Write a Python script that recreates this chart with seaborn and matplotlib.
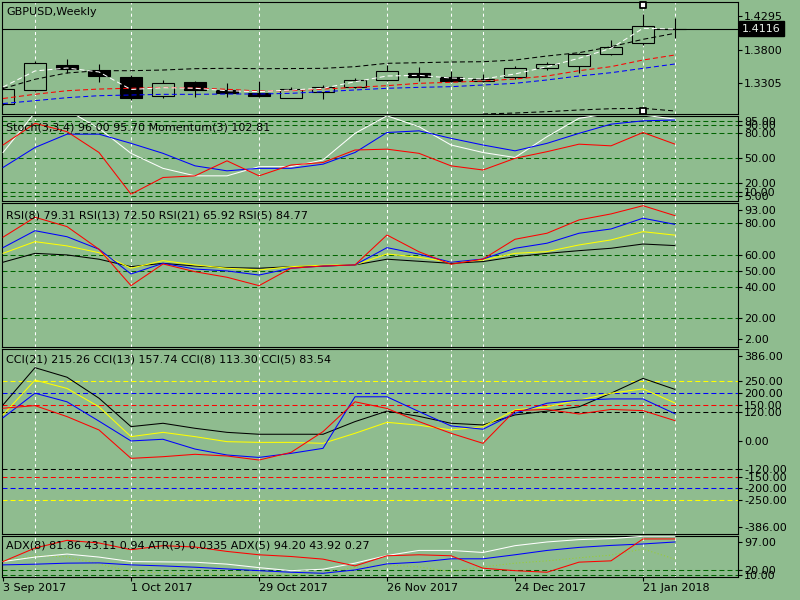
import matplotlib
matplotlib.use("Agg")
import matplotlib.pyplot as plt
import matplotlib.transforms as mtransforms
import seaborn as sns

# ---------------- data (weekly bars, 3 Sep 2017 .. 28 Jan 2018) ----------------
weeks = list(range(22))
date_labels = ["3 Sep 2017", "1 Oct 2017", "29 Oct 2017", "26 Nov 2017",
               "24 Dec 2017", "21 Jan 2018"]
date_label_weeks = [0, 4, 8, 12, 16, 20]
grid_weeks = [1, 4, 8, 12, 14, 15, 20, 21]

opens = [1.2992, 1.3201, 1.3573, 1.3498, 1.3394, 1.3111, 1.3320, 1.3201, 1.3156, 1.3084, 1.3176,
         1.3240, 1.3350, 1.3449, 1.3389, 1.3330, 1.3390, 1.3524, 1.3563, 1.3732, 1.3896, 1.4116]
highs = [1.3260, 1.3625, 1.3662, 1.3588, 1.3424, 1.3350, 1.3335, 1.3300, 1.3335, 1.3240, 1.3275,
         1.3384, 1.3568, 1.3539, 1.3484, 1.3439, 1.3558, 1.3618, 1.3756, 1.3945, 1.4328, 1.4268]
lows = [1.2970, 1.3190, 1.3454, 1.3320, 1.3052, 1.3081, 1.3096, 1.3100, 1.3092, 1.3075, 1.3067,
        1.3230, 1.3340, 1.3330, 1.3320, 1.3325, 1.3360, 1.3503, 1.3454, 1.3725, 1.3871, 1.3970]
closes = [1.3215, 1.3603, 1.3513, 1.3409, 1.3081, 1.3305, 1.3201, 1.3156, 1.3116, 1.3210, 1.3240,
          1.3350, 1.3484, 1.3394, 1.3330, 1.3369, 1.3524, 1.3583, 1.3737, 1.3845, 1.4149, 1.4116]
last_price = 1.4116

ma_white = [1.3245, 1.3484, 1.3528, 1.3469, 1.3208, 1.3235, 1.3226, 1.3190, 1.3176, 1.3201, 1.3226,
            1.3324, 1.3409, 1.3419, 1.3379, 1.3364, 1.3439, 1.3548, 1.3673, 1.3822, 1.4119, 1.4109]
ma_black = [1.3223, 1.3360, 1.3454, 1.3488, 1.3488, 1.3498, 1.3518, 1.3523, 1.3518, 1.3520, 1.3523,
            1.3548, 1.3598, 1.3607, 1.3617, 1.3622, 1.3647, 1.3707, 1.3756, 1.3845, 1.3955, 1.4045]
ma_red = [1.3074, 1.3137, 1.3190, 1.3215, 1.3226, 1.3240, 1.3230, 1.3211, 1.3186, 1.3190, 1.3215,
          1.3240, 1.3265, 1.3300, 1.3315, 1.3335, 1.3364, 1.3409, 1.3488, 1.3548, 1.3647, 1.3722]
ma_blue = [1.2999, 1.3042, 1.3086, 1.3116, 1.3126, 1.3136, 1.3136, 1.3141, 1.3141, 1.3151, 1.3176,
           1.3201, 1.3226, 1.3240, 1.3250, 1.3275, 1.3300, 1.3350, 1.3409, 1.3458, 1.3523, 1.3588]
band_weeks = [15, 16, 17, 18, 19, 20, 21]
band_low = [1.2843, 1.2858, 1.2878, 1.2903, 1.2922, 1.2928, 1.2888]
fractal_week = [20, 20]
fractal_price = [1.4466, 1.2888]
price_ticks = [1.4295, 1.3800, 1.3305]

stoch_main = [39, 63, 79, 79, 68, 56, 41, 35, 38, 38, 43, 57, 81, 83, 74, 66, 59, 68, 80, 91, 95, 96]
stoch_red = [66, 92, 82, 57, 7, 27, 29, 47, 29, 42, 45, 60, 61, 56, 41, 36, 50, 58, 67, 65, 81, 67]
stoch_white = [57, 105, 108, 86, 56, 38, 29, 29, 40, 40, 48, 80, 101, 88, 66, 57, 51, 76, 98, 104, 102, 97]
stoch_levels = [95, 90, 80, 50, 20, 10, 5]

rsi5 = [71.2, 83.8, 77.9, 63.6, 40.6, 54.3, 49.4, 45.9, 40.6, 51.6, 53.0, 53.7, 72.6, 62.0, 54.1,
        57.4, 69.9, 73.7, 82.1, 85.9, 91.1, 84.8]
rsi8 = [64.6, 75.3, 71.5, 63.6, 48.0, 54.7, 51.1, 49.9, 47.3, 51.6, 53.0, 53.7, 64.6, 60.5, 55.4,
        57.4, 64.2, 67.4, 73.7, 76.4, 83.2, 79.3]
rsi13 = [61.0, 68.4, 65.7, 61.4, 51.6, 56.4, 53.7, 51.6, 50.5, 52.6, 53.5, 53.7, 60.6, 58.5, 55.4,
         56.8, 61.0, 62.1, 66.3, 69.5, 74.7, 72.5]
rsi21 = [55.4, 61.0, 60.0, 57.3, 52.6, 54.7, 53.0, 52.0, 51.6, 52.6, 53.0, 53.7, 57.3, 56.0, 54.7,
         55.8, 58.9, 61.0, 62.7, 64.2, 66.9, 65.9]
rsi_levels = [80, 60, 50, 40, 20]

cci21 = [150, 306, 266, 178, 59, 73, 52, 35, 27, 27, 27, 80, 124, 102, 73, 66, 108, 124, 142, 199, 261, 215]
cci13 = [108, 254, 219, 142, 17, 35, 17, -4, -7, -7, -11, 31, 77, 65, 45, 59, 129, 142, 170, 199, 217, 158]
cci8 = [96, 199, 163, 82, -1, 6, -35, -60, -70, -53, -32, 184, 184, 122, 62, 48, 115, 157, 170, 175, 175, 113]
cci5 = [136, 147, 101, 45, -74, -67, -57, -64, -81, -49, 38, 163, 135, 80, 31, -11, 126, 131, 112, 131, 126, 84]
cci_levels = [250, 200, 150, 120, -120, -150, -200, -250]
cci_level_colors = ["#FFFF00", "#0000FF", "#FF0000", "#000000",
                    "#000000", "#FF0000", "#0000FF", "#FFFF00"]

adx_red = [39.6, 69.5, 86.5, 80.7, 65.8, 74.7, 71.8, 62.0, 54.6, 50.8, 45.0, 30.0, 52.4, 54.6, 52.4,
           24.9, 19.5, 16.0, 38.3, 41.2, 89.6, 89.6]
adx_white = [39.6, 49.5, 56.2, 49.5, 39.6, 38.9, 38.1, 33.9, 26.2, 19.5, 22.7, 36.1, 53.0, 64.2, 64.2,
             59.7, 74.7, 82.9, 88.1, 90.3, 95.4, 95.4]
adx_blue = [32.3, 33.8, 36.1, 36.7, 32.3, 30.0, 27.1, 23.3, 19.5, 16.0, 13.7, 21.1, 34.5, 38.3, 45.7,
            45.7, 54.6, 64.2, 70.9, 75.3, 78.5, 82.9]
atr_line = [41.2, 52.4, 50.1, 34.5, 17.3, 14.4, 12.2, 11.1, 10.0, 10.0, 14.4, 26.7, 32.3, 27.8, 17.3,
            27.8, 36.1, 41.2, 47.9, 53.9, 67.3, 45.0]
adx_levels = [20, 10]

# ---------------- style ----------------
BG = "#8FBC8F"
LEVEL_GREEN = "#006400"
sns.set_theme(style="white")
plt.rcParams["font.family"] = ["DejaVu Sans"]
plt.rcParams["lines.scale_dashes"] = False
plt.rcParams["axes.linewidth"] = 0.8
FS = 8
LW = 0.75

fig = plt.figure(figsize=(8, 6), dpi=100, facecolor=BG)

X0, X1 = 2, 738
XMIN = (X0 - 3) / 32.0
XMAX = (X1 - 3) / 32.0


def make_panel(yt, yb, ylim):
    ax = fig.add_axes([X0 / 800, 1 - yb / 600, (X1 - X0) / 800, (yb - yt) / 600])
    ax.set_facecolor(BG)
    for s in ax.spines.values():
        s.set_color("black")
        s.set_linewidth(0.8)
    ax.set_xlim(XMIN, XMAX)
    ax.set_ylim(*ylim)
    ax.set_xticks([])
    ax.yaxis.tick_right()
    ax.tick_params(axis="y", direction="out", length=3, width=0.8, pad=1.5,
                   labelsize=FS, colors="black", right=True, left=False)
    for g in grid_weeks:
        ax.axvline(g, color="white", lw=0.75, ls=(0, (2.2, 2.2)), zorder=1)
    return ax


def line(ax, x, y, color, ls="-", lw=LW, z=3):
    sns.lineplot(x=x, y=y, ax=ax, color=color, linestyle=ls, linewidth=lw,
                 zorder=z, legend=False, errorbar=None)
    ax.set_xlabel("")
    ax.set_ylabel("")


def levels(ax, vals, colors=None):
    for i, v in enumerate(vals):
        c = LEVEL_GREEN if colors is None else colors[i]
        ax.axhline(v, color=c, lw=0.75, ls=(0, (3.6, 2.2)), zorder=1.5)


def set_ticks(ax, pos, labels):
    ax.set_yticks(pos)
    ax.set_yticklabels(labels)
    ax.set_xlim(XMIN, XMAX)


# ---------------- main price panel ----------------
ax0 = make_panel(2, 114, (1.28432, 1.45109))
ax0.vlines(weeks, lows, highs, color="black", lw=0.8, zorder=2)
bottoms = [min(o, c) for o, c in zip(opens, closes)]
heights = [abs(c - o) for o, c in zip(opens, closes)]
faces = [BG if c >= o else "black" for o, c in zip(opens, closes)]
ax0.bar(weeks, heights, bottom=bottoms, width=0.69, color=faces,
        edgecolor="black", linewidth=0.8, zorder=2.5)
ax0.axhline(last_price, color="black", lw=0.8, zorder=2)
DASH = (0, (3.6, 2.2))
line(ax0, weeks, ma_blue, "#0000FF", DASH)
line(ax0, weeks, ma_red, "#FF0000", DASH)
line(ax0, weeks, ma_black, "black", DASH)
line(ax0, band_weeks, band_low, "black", DASH)
line(ax0, weeks, ma_white, "white", DASH)
ax0.scatter(fractal_week, fractal_price, marker="s", s=16, facecolor="white",
            edgecolor="black", linewidth=1.3, zorder=4, clip_on=False)
set_ticks(ax0, price_ticks, [f"{p:.4f}" for p in price_ticks])
ax0.set_ylim(1.28432, 1.45109)
trans = mtransforms.blended_transform_factory(ax0.transAxes, ax0.transData)
ax0.text(1.0055, last_price, f"{last_price:.4f}", transform=trans, ha="left", va="center",
         fontsize=FS, color="#E8F0E8",
         bbox=dict(boxstyle="square,pad=0.25", facecolor="black", edgecolor="black"),
         zorder=10, clip_on=False)

# ---------------- stochastic panel ----------------
ax1 = make_panel(116, 201, (-1.2, 100.8))
levels(ax1, stoch_levels)
line(ax1, weeks, stoch_white, "white")
line(ax1, weeks, stoch_main, "#0000FF")
line(ax1, weeks, stoch_red, "#FF0000")
set_ticks(ax1, stoch_levels, [f"{v:.2f}" for v in stoch_levels])
ax1.set_ylim(-1.2, 100.8)

# ---------------- RSI panel ----------------
ax2 = make_panel(203, 346.5, (2.17, 92.8))
levels(ax2, rsi_levels)
line(ax2, weeks, rsi21, "black")
line(ax2, weeks, rsi13, "#FFFF00")
line(ax2, weeks, rsi8, "#0000FF")
line(ax2, weeks, rsi5, "#FF0000")
set_ticks(ax2, [88.4] + rsi_levels + [6.7],
          ["93.00"] + [f"{v:.2f}" for v in rsi_levels] + ["2.00"])
ax2.set_ylim(2.17, 92.8)

# ---------------- CCI panel ----------------
ax3 = make_panel(348.5, 533.5, (-388.8, 386.3))
levels(ax3, cci_levels, cci_level_colors)
line(ax3, weeks, cci21, "black")
line(ax3, weeks, cci13, "#FFFF00")
line(ax3, weeks, cci8, "#0000FF")
line(ax3, weeks, cci5, "#FF0000")
cci_tick_vals = [250, 200, 150, 120, 0, -120, -150, -200, -250]
set_ticks(ax3, [355] + cci_tick_vals + [-360],
          ["386.00"] + [f"{v:.2f}" for v in cci_tick_vals] + ["-386.00"])
ax3.set_ylim(-388.8, 386.3)

# ---------------- ADX / ATR panel ----------------
ax4 = make_panel(535.5, 576.5, (6.6, 97.2))
levels(ax4, adx_levels)
line(ax4, weeks, atr_line, "#9ACD32", (0, (0.8, 1.6)))
line(ax4, weeks, adx_blue, "#0000FF")
line(ax4, weeks, adx_white, "white")
line(ax4, weeks, adx_red, "#FF0000")
set_ticks(ax4, [82] + adx_levels, ["97.00"] + [f"{v:.2f}" for v in adx_levels])
ax4.set_ylim(6.6, 97.2)
ax4.set_xticks(date_label_weeks)
ax4.set_xticklabels(date_labels, ha="left")
ax4.tick_params(axis="x", direction="out", length=3, width=0.8, pad=1.5,
                labelsize=FS, colors="black", bottom=True)
ax4.set_xlim(XMIN, XMAX)

# ---------------- panel captions ----------------
captions = [
    (12, "GBPUSD,Weekly"),
    (127, "Stoch(3,3,4) 96.00 95.70 Momentum(3) 102.81"),
    (215, "RSI(8) 79.31 RSI(13) 72.50 RSI(21) 65.92 RSI(5) 84.77"),
    (359, "CCI(21) 215.26 CCI(13) 157.74 CCI(8) 113.30 CCI(5) 83.54"),
    (546, "ADX(8) 81.86 43.11 0.94 ATR(3) 0.0335 ADX(5) 94.20 43.92 0.27"),
]
for ypx, txt in captions:
    fig.text(6 / 800, 1 - ypx / 600, txt, fontsize=FS, color="black",
             ha="left", va="center", zorder=20)

fig.savefig("out.png", dpi=100, facecolor=BG)
